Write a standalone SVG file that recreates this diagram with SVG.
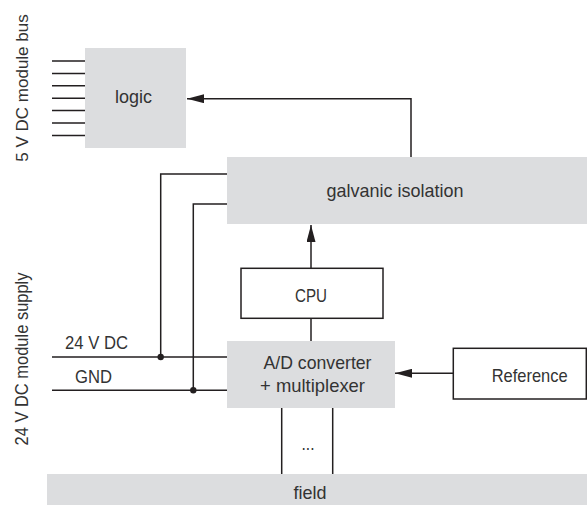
<svg xmlns="http://www.w3.org/2000/svg" width="587" height="505" viewBox="0 0 587 505">
<style>
.box{fill:#dcdddf;stroke:none}
.wbox{fill:#ffffff;stroke:#231f20;stroke-width:1.5}
.ln{fill:none;stroke:#231f20;stroke-width:1.5}
.t{font-family:"Liberation Sans",Arial,sans-serif;font-size:19px;fill:#333333}
.m{text-anchor:middle}
.dot{fill:#231f20}
</style>
<defs>
<marker id="ah" viewBox="0 0 17 9" refX="17" refY="4.5" markerWidth="17" markerHeight="9" markerUnits="userSpaceOnUse" orient="auto">
<path d="M0,0 L17,4.5 L0,9 z" fill="#231f20"/>
</marker>
</defs>
<rect width="587" height="505" fill="#ffffff"/>
<text class="t m" transform="translate(28,88) rotate(-90)" style="font-size:17px">5 V DC module bus</text>
<text class="t m" transform="translate(28,359) rotate(-90)" textLength="173" lengthAdjust="spacingAndGlyphs">24 V DC module supply</text>
<g id="logic">
<rect class="box" x="85" y="48" width="101" height="100"/>
<text class="t m" x="133.5" y="103" textLength="37" lengthAdjust="spacingAndGlyphs">logic</text>
</g>
<g id="galvanic">
<rect class="box" x="227" y="157" width="360" height="67"/>
<text class="t m" x="395" y="197" textLength="137" lengthAdjust="spacingAndGlyphs">galvanic isolation</text>
</g>
<g id="cpu">
<rect class="wbox" x="241" y="268.3" width="142" height="50"/>
<text class="t m" x="311" y="302.3" textLength="32" lengthAdjust="spacingAndGlyphs">CPU</text>
</g>
<g id="adc">
<rect class="box" x="227" y="341" width="168" height="67"/>
<text class="t m" x="317.5" y="369" textLength="108" lengthAdjust="spacingAndGlyphs">A/D converter</text>
<text class="t m" x="312.5" y="392" textLength="105" lengthAdjust="spacingAndGlyphs">+ multiplexer</text>
</g>
<g id="reference">
<rect class="wbox" x="453.3" y="348.3" width="133" height="50.7"/>
<text class="t m" x="529.7" y="382" textLength="76" lengthAdjust="spacingAndGlyphs">Reference</text>
</g>
<g id="field">
<rect class="box" x="47" y="474" width="540" height="31"/>
<text class="t m" x="310" y="499" textLength="33" lengthAdjust="spacingAndGlyphs">field</text>
</g>
<g id="connectors">
<path class="ln" d="M52,61H85M52,73.4H85M52,85.8H85M52,98.2H85M52,110.6H85M52,123H85M52,135.5H85"/>
<path class="ln" d="M411,157V98.7H187" marker-end="url(#ah)"/>
<path class="ln" d="M311,268.3V225" marker-end="url(#ah)"/>
<path class="ln" d="M311,318.3V341"/>
<path class="ln" d="M453.3,373.3H395" marker-end="url(#ah)"/>
<path class="ln" d="M52,357H227M52,390.3H227"/>
<path class="ln" d="M227,174H160.7V357"/>
<path class="ln" d="M227,204H193.3V390.3"/>
<circle class="dot" cx="160.7" cy="357" r="3.2"/>
<circle class="dot" cx="193.3" cy="390.3" r="3.2"/>
<path class="ln" d="M281.7,408V474M332.7,408V474"/>
<text class="t" x="65" y="349" textLength="63" lengthAdjust="spacingAndGlyphs">24 V DC</text>
<text class="t" x="75" y="383" textLength="37" lengthAdjust="spacingAndGlyphs">GND</text>
<text class="t m" x="308" y="450" textLength="13" lengthAdjust="spacingAndGlyphs">...</text>
</g>
</svg>
